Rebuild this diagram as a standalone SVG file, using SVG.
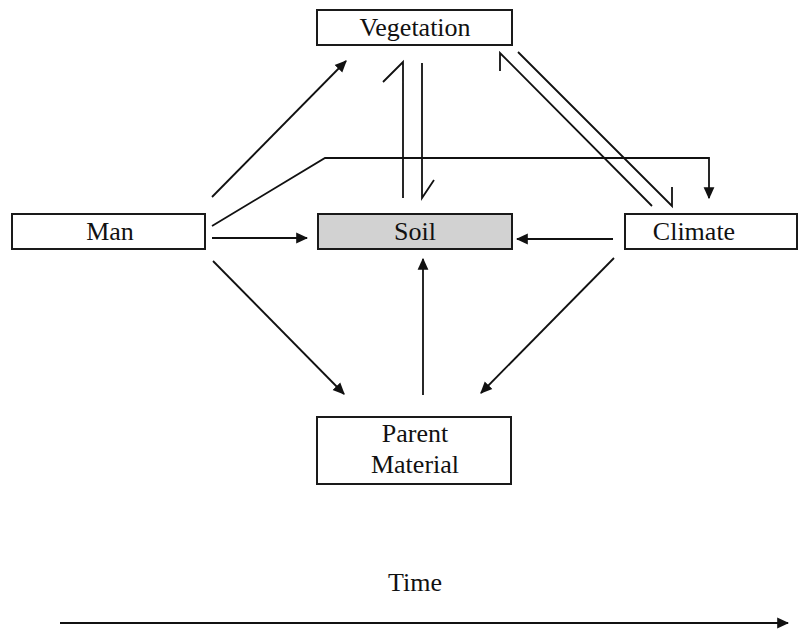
<svg xmlns="http://www.w3.org/2000/svg" width="799" height="635" viewBox="0 0 799 635">
<style>
.box{fill:#fff;stroke:#1a1a1a;stroke-width:2}
.soil{fill:#d2d2d2;stroke:#1a1a1a;stroke-width:2}
.lbl{font-family:"Liberation Serif","Times New Roman",serif;font-size:26px;fill:#111;text-anchor:middle}
.c{fill:none;stroke:#111;stroke-width:1.8}
.a{marker-end:url(#ah)}
</style>
<defs>
<marker id="ah" viewBox="0 0 10 10" refX="9" refY="5" markerWidth="12" markerHeight="12" markerUnits="userSpaceOnUse" orient="auto">
<path d="M0,0.5 L10,5 L0,9.5 Z" fill="#111"/>
</marker>
</defs>
<rect width="799" height="635" fill="#fff"/>
<g id="connectors">
<line class="c a" x1="212" y1="197" x2="346" y2="61"/>
<polyline class="c a" points="212,226 325,158 709,158 709,198"/>
<line class="c a" x1="212" y1="238" x2="307" y2="238"/>
<line class="c a" x1="213" y1="261" x2="344" y2="394"/>
<polyline class="c" points="383,82 403,62 403,198"/>
<polyline class="c" points="422,63 422,198 434,180"/>
<polyline class="c" points="500,71 500,53 652,206"/>
<polyline class="c" points="518,52 672,206 672,187"/>
<line class="c a" x1="613" y1="239" x2="517" y2="239"/>
<line class="c a" x1="423" y1="395" x2="423" y2="259"/>
<line class="c a" x1="614" y1="258" x2="481" y2="393"/>
<line class="c a" x1="60" y1="623" x2="788" y2="623"/>
</g>
<g id="vegetation">
<rect class="box" x="317" y="10" width="195" height="35"/>
<text class="lbl" x="415" y="36">Vegetation</text>
</g>
<g id="man">
<rect class="box" x="12" y="214" width="193" height="35"/>
<text class="lbl" x="110" y="240">Man</text>
</g>
<g id="soil">
<rect class="soil" x="318" y="214" width="194" height="35"/>
<text class="lbl" x="415" y="240">Soil</text>
</g>
<g id="climate">
<rect class="box" x="625" y="214" width="172" height="35"/>
<text class="lbl" x="694" y="240">Climate</text>
</g>
<g id="parent-material">
<rect class="box" x="317" y="417" width="194" height="67"/>
<text class="lbl" x="415" y="442">Parent</text>
<text class="lbl" x="415" y="473">Material</text>
</g>
<g id="time">
<text class="lbl" x="415" y="591">Time</text>
</g>
</svg>
